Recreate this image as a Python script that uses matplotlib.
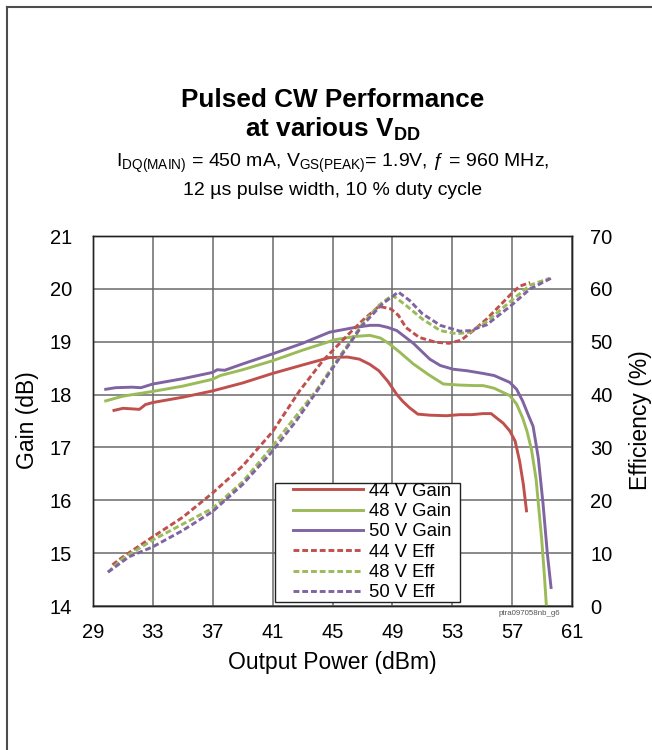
import matplotlib.pyplot as plt
from matplotlib.lines import Line2D
from matplotlib.patches import Rectangle

plt.rcParams['font.family'] = ['Liberation Sans', 'DejaVu Sans']
plt.rcParams['mathtext.fontset'] = 'custom'
plt.rcParams['mathtext.rm'] = 'Liberation Sans'
plt.rcParams['mathtext.default'] = 'regular'

RED = '#C0504D'
GREEN = '#9BBB59'
PURPLE = '#8064A2'

# gain curves (dB) vs output power (dBm)
x_gain_44 = [30.4, 31.0, 31.6, 32.1, 32.5, 33.0, 35.0, 37.0, 39.0, 41.0, 43.0, 44.8, 46.0, 46.8,
             47.5, 48.1, 48.7, 49.3, 49.7, 50.15, 50.7, 51.5, 52.6, 53.5, 54.3, 55.06, 55.6,
             55.95, 56.4, 56.85, 57.2, 57.5, 57.75, 57.96]
gain_44 = [17.70, 17.74, 17.73, 17.72, 17.81, 17.85, 17.95, 18.07, 18.22, 18.40, 18.56, 18.70,
           18.71, 18.67, 18.57, 18.45, 18.25, 18.00, 17.87, 17.75, 17.63, 17.61, 17.60, 17.62,
           17.62, 17.64, 17.64, 17.56, 17.46, 17.31, 17.12, 16.74, 16.30, 15.80]

x_gain_48 = [29.85, 31.0, 33.0, 35.0, 37.0, 37.5, 39.0, 41.0, 43.0, 45.2, 46.5, 47.5, 48.2, 48.8,
             49.5, 50.4, 51.4, 52.4, 53.5, 54.5, 55.06, 55.8, 56.85, 57.3, 57.7, 58.0, 58.3,
             58.6, 58.97, 59.15, 59.3]
gain_48 = [17.88, 17.97, 18.06, 18.16, 18.29, 18.36, 18.47, 18.64, 18.84, 19.04, 19.10, 19.12,
           19.07, 18.96, 18.80, 18.58, 18.38, 18.20, 18.18, 18.17, 18.17, 18.12, 17.98, 17.82,
           17.56, 17.30, 16.95, 16.40, 15.28, 14.60, 13.95]

x_gain_50 = [29.85, 30.5, 31.6, 32.2, 33.0, 35.0, 37.0, 37.3, 37.8, 39.0, 41.0, 43.0, 44.8, 46.5,
             47.5, 48.1, 48.7, 49.3, 50.4, 51.5, 52.2, 53.05, 54.0, 55.06, 55.8, 56.85, 57.3,
             57.7, 58.1, 58.4, 58.75, 59.07, 59.35, 59.6]
gain_50 = [18.10, 18.13, 18.14, 18.13, 18.20, 18.30, 18.42, 18.47, 18.46, 18.58, 18.77, 18.97,
           19.18, 19.27, 19.31, 19.31, 19.27, 19.21, 18.97, 18.67, 18.55, 18.48, 18.45, 18.40,
           18.36, 18.23, 18.10, 17.88, 17.60, 17.40, 16.80, 15.92, 15.00, 14.35]

# drain efficiency curves (%)
x_eff_44 = [30.3, 31.0, 33.0, 35.0, 37.0, 39.0, 41.0, 42.8, 44.35, 44.9, 46.1, 47.0, 48.1, 48.9,
            49.4, 49.9, 50.8, 51.9, 52.8, 53.6, 54.4, 55.3, 56.1, 56.85, 57.5, 58.0, 58.2]
eff_44 = [7.8, 9.3, 13.1, 16.8, 21.4, 26.5, 33.0, 40.7, 46.4, 48.0, 51.5, 54.0, 56.7, 56.2,
          55.0, 52.7, 50.8, 49.9, 49.7, 50.3, 52.1, 54.3, 56.6, 58.8, 60.5, 61.0, 61.2]

x_eff_48 = [30.0, 31.0, 33.0, 35.0, 37.0, 39.0, 40.9, 42.3, 43.9, 45.35, 47.0, 48.1, 49.0, 49.9,
            51.0, 52.2, 53.3, 54.2, 55.3, 56.96, 58.2, 59.5]
eff_48 = [6.4, 9.0, 12.5, 15.5, 18.5, 23.5, 29.9, 35.0, 40.7, 46.7, 53.4, 56.9, 58.8, 56.9,
          54.3, 52.1, 51.5, 51.8, 53.8, 57.8, 60.7, 62.0]

x_eff_50 = [30.0, 31.4, 33.0, 35.0, 37.0, 39.0, 40.9, 42.57, 43.9, 45.35, 47.0, 48.35, 49.4,
            50.15, 51.0, 52.2, 53.5, 54.2, 55.3, 56.96, 58.2, 59.6]
eff_50 = [6.4, 9.3, 11.2, 14.3, 17.9, 23.0, 29.0, 35.0, 40.4, 46.4, 53.1, 57.2, 59.4, 57.8,
          55.3, 53.1, 52.0, 52.1, 53.2, 56.9, 60.0, 62.0]

x_ticks = list(range(29, 62, 4))
gain_ticks = list(range(14, 22))
eff_ticks = list(range(0, 71, 10))


def main():
    fig = plt.figure(figsize=(6.52, 7.5), dpi=100)
    ax = fig.add_axes([93 / 652, 144 / 750, 479 / 652, 370 / 750])
    ax2 = ax.twinx()

    lw = 2.1
    ax.plot(x_gain_44, gain_44, color=RED, lw=lw, label='44 V Gain')
    ax.plot(x_gain_48, gain_48, color=GREEN, lw=lw, label='48 V Gain')
    ax.plot(x_gain_50, gain_50, color=PURPLE, lw=lw, label='50 V Gain')
    ax2.plot(x_eff_44, eff_44, color=RED, lw=lw, ls=(0, (2.0, 1.0)), label='44 V Eff')
    ax2.plot(x_eff_48, eff_48, color=GREEN, lw=lw, ls=(0, (2.0, 1.0)), label='48 V Eff')
    ax2.plot(x_eff_50, eff_50, color=PURPLE, lw=lw, ls=(0, (2.0, 1.0)), label='50 V Eff')

    ax.set_xlim(29, 61)
    ax.set_ylim(14, 21)
    ax2.set_ylim(0, 70)
    ax.set_xticks(x_ticks)
    ax.set_yticks(gain_ticks)
    ax2.set_yticks(eff_ticks)
    ax.grid(True, color='#6a6a6a', lw=1.1)
    ax.tick_params(axis='both', length=0, labelsize=14.5)
    ax.tick_params(axis='x', pad=12)
    ax.tick_params(axis='y', pad=15)
    ax2.tick_params(axis='y', length=0, labelsize=14.5, pad=13)
    for a in (ax, ax2):
        for s in a.spines.values():
            s.set_color('#222222')
            s.set_linewidth(1.0)

    ax.set_xlabel('Output Power (dBm)', fontsize=16.5)
    ax.xaxis.set_label_coords(0.5, -0.154)
    ax.xaxis.label.set_verticalalignment('center')
    ax.set_ylabel('Gain (dB)', fontsize=16.5)
    ax.yaxis.set_label_coords(-0.1367, 0.503)
    ax.yaxis.label.set_verticalalignment('center')
    ax2.set_ylabel('Efficiency (%)', fontsize=16.5)
    ax2.yaxis.set_label_coords(1.142, 0.503)
    ax2.yaxis.label.set_verticalalignment('center')

    # legend with a square black frame drawn by hand
    ax2.add_patch(Rectangle((0.38, 0.011), 0.386, 0.321, transform=ax2.transAxes,
                            facecolor='white', edgecolor='#222222', lw=1.0, zorder=5))
    h1, l1 = ax.get_legend_handles_labels()
    h2, l2 = ax2.get_legend_handles_labels()
    leg = ax2.legend(h1 + h2, l1 + l2, loc='upper left', bbox_to_anchor=(0.4175, 0.333),
                     borderaxespad=0, borderpad=0, frameon=False, fontsize=13.3,
                     handlelength=3.8, handletextpad=0.3, labelspacing=0.18)
    leg.set_zorder(6)

    ax.text(0.975, -0.019, 'ptra097058nb_g6', transform=ax.transAxes, ha='right',
            va='center', fontsize=5.7, color='#555555')

    cx = 332.5 / 652
    fig.text(cx, 1 - 107 / 750, 'Pulsed CW Performance', ha='center', va='baseline',
             fontsize=18.8, fontweight='bold')
    fig.text(cx, 1 - 136.7 / 750, 'at various V$_{DD}$', ha='center', va='baseline',
             fontsize=18.8, fontweight='bold')
    fig.text(cx, 1 - 167 / 750, 'I$_{DQ(MAIN)}$ = 450 mA, V$_{GS(PEAK)}$= 1.9V, \u0192 = 960 MHz,',
             ha='center', va='baseline', fontsize=14)
    fig.text(cx, 1 - 195 / 750, '12 \u00b5s pulse width, 10 % duty cycle',
             ha='center', va='baseline', fontsize=14)

    # page border (top and left)
    fig.add_artist(Line2D([6.5 / 652, 1], [1 - 6.5 / 750] * 2, color='#4d4d4d', lw=1.5,
                          transform=fig.transFigure))
    fig.add_artist(Line2D([6.5 / 652] * 2, [0, 1 - 6.5 / 750], color='#4d4d4d', lw=1.5,
                          transform=fig.transFigure))

    fig.savefig('out.png', dpi=100)


if __name__ == '__main__':
    main()
